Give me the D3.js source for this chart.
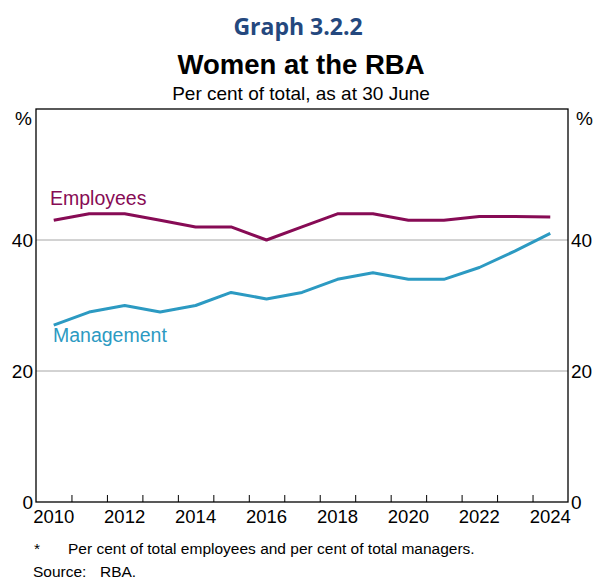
<!DOCTYPE html>
<html>
<head>
<meta charset="utf-8">
<script src="https://cdn.jsdelivr.net/npm/d3@7"></script>
<style>
  body { margin: 0; background: #fff; }
  text { font-family: Arial, "Liberation Sans", sans-serif; }
</style>
</head>
<body>
<svg id="chart" width="595" height="581"></svg>
<script>
// data, as at 30 June each year
var years = [2010, 2011, 2012, 2013, 2014, 2015, 2016, 2017, 2018, 2019, 2020, 2021, 2022, 2023, 2024];
var employees = [43, 44, 44, 43, 42, 42, 40, 42, 44, 44, 43, 43, 43.6, 43.6, 43.5];
var management = [27, 29, 30, 29, 30, 32, 31, 32, 34, 35, 34, 34, 35.8, 38.3, 41];
var yTicks = [0, 20, 40];
var xLabels = [2010, 2012, 2014, 2016, 2018, 2020, 2022, 2024];

var svg = d3.select("#chart"),
    plotL = 36, plotR = 568, plotT = 109, plotB = 502;

var x = d3.scaleLinear().domain([2010, 2025]).range([plotL, plotR]);
var y = d3.scaleLinear().domain([0, 60]).range([plotB, plotT]);

// titles
svg.append("text")
    .attr("x", 298).attr("y", 35)
    .attr("text-anchor", "middle")
    .style("font-family", "'Open Sans', sans-serif")
    .style("font-weight", "bold")
    .style("font-size", "23px")
    .attr("fill", "#24487e")
    .text("Graph 3.2.2");
svg.append("text")
    .attr("x", 301).attr("y", 74)
    .attr("text-anchor", "middle")
    .style("font-weight", "bold")
    .style("font-size", "27.5px")
    .text("Women at the RBA");
svg.append("text")
    .attr("x", 301).attr("y", 100)
    .attr("text-anchor", "middle")
    .style("font-size", "19px")
    .text("Per cent of total, as at 30 June");

// gridlines
svg.append("g")
    .selectAll("line")
    .data(yTicks.filter(function(d){ return d > 0 }))
    .enter()
    .append("line")
      .attr("x1", plotL).attr("x2", plotR)
      .attr("y1", function(d){ return y(d) })
      .attr("y2", function(d){ return y(d) })
      .attr("stroke", "#a6a6a6")
      .attr("stroke-width", 1);

// frame
svg.append("rect")
    .attr("x", plotL).attr("y", plotT)
    .attr("width", plotR - plotL).attr("height", plotB - plotT)
    .attr("fill", "none")
    .attr("stroke", "#000")
    .attr("stroke-width", 1.3);

// year ticks (inside, at year boundaries)
var xAxis = d3.axisBottom(x)
    .tickValues(d3.range(2011, 2025))
    .tickSizeInner(-7)
    .tickSizeOuter(0)
    .tickFormat("");
svg.append("g")
    .attr("transform", "translate(0," + plotB + ")")
    .call(xAxis)
    .call(function(g){ g.select(".domain").remove() })
    .selectAll("line").attr("stroke", "#000").attr("stroke-width", 1);

// year labels centred in each year
svg.append("g")
    .selectAll("text")
    .data(xLabels)
    .enter()
    .append("text")
      .attr("x", function(d){ return x(d + 0.5) })
      .attr("y", 523)
      .attr("text-anchor", "middle")
      .style("font-size", "18.5px")
      .text(function(d){ return d });

// y labels both sides
var yl = svg.append("g").style("font-size", "19px");
yTicks.forEach(function(t){
    yl.append("text").attr("x", plotL - 3).attr("y", y(t)).attr("dy", "0.35em")
      .attr("text-anchor", "end").text(t);
    yl.append("text").attr("x", plotR + 3).attr("y", y(t)).attr("dy", "0.35em")
      .attr("text-anchor", "start").text(t);
});
yl.append("text").attr("x", plotL - 4).attr("y", 125).attr("text-anchor", "end").text("%");
yl.append("text").attr("x", plotR + 8).attr("y", 125).attr("text-anchor", "start").text("%");

// lines
var line = d3.line()
    .x(function(d){ return x(d[0] + 0.5) })
    .y(function(d){ return y(d[1]) });

var series = [
    { name: "Employees", values: employees, color: "#870b55", lx: 50, ly: 205 },
    { name: "Management", values: management, color: "#2c9ac2", lx: 53, ly: 342 }
];

series.forEach(function(s){
    svg.append("path")
        .datum(d3.zip(years, s.values))
        .attr("fill", "none")
        .attr("stroke", s.color)
        .attr("stroke-width", 3)
        .attr("stroke-linejoin", "round")
        .attr("d", line);
    svg.append("text")
        .attr("x", s.lx).attr("y", s.ly)
        .attr("fill", s.color)
        .style("font-size", "19.5px")
        .text(s.name);
});

// footnotes
svg.append("text").attr("x", 34).attr("y", 554).style("font-size", "15.5px").text("*");
svg.append("text").attr("x", 68).attr("y", 554).style("font-size", "15.5px")
    .text("Per cent of total employees and per cent of total managers.");
svg.append("text").attr("x", 33).attr("y", 577).style("font-size", "15.5px").text("Source:");
svg.append("text").attr("x", 100).attr("y", 577).style("font-size", "15.5px").text("RBA.");
</script>
</body>
</html>
